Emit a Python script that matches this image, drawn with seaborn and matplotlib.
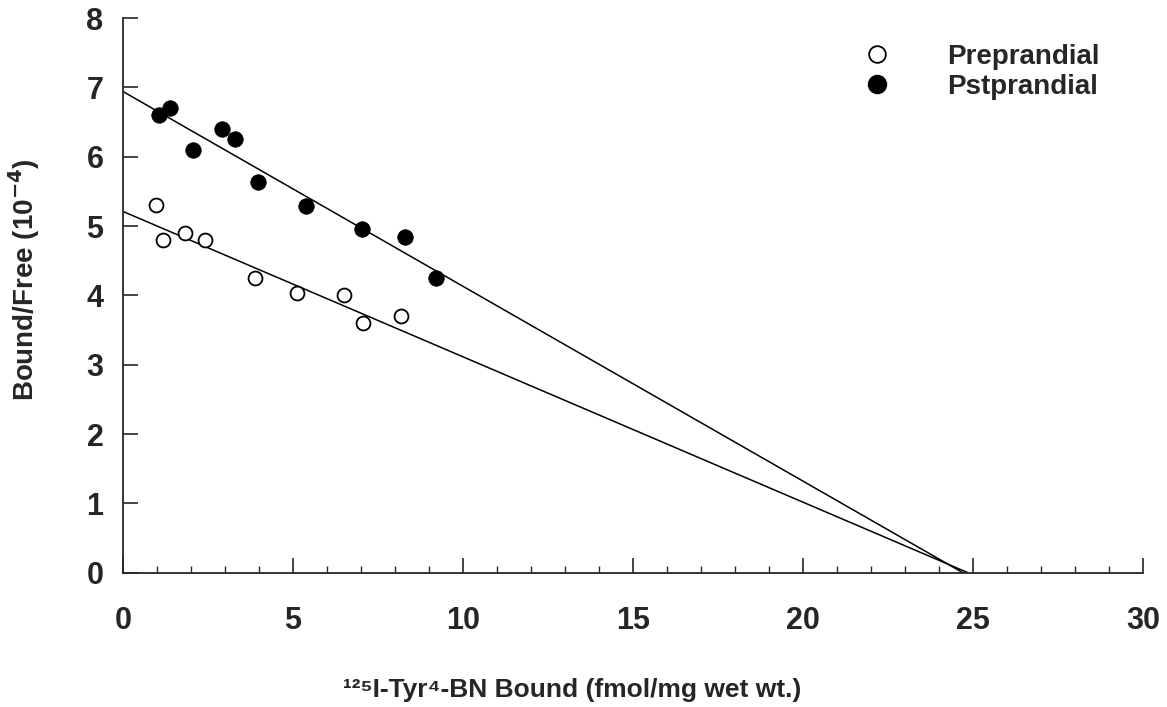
import numpy as np
import pandas as pd
import matplotlib

matplotlib.use("Agg")
import matplotlib.pyplot as plt
import seaborn as sns
from matplotlib.lines import Line2D
from matplotlib.ticker import MultipleLocator

# data
pre_x = [0.96, 1.18, 1.83, 2.41, 3.88, 5.12, 6.49, 7.07, 8.18]
pre_y = [5.30, 4.80, 4.90, 4.80, 4.25, 4.04, 4.00, 3.60, 3.70]
post_x = [1.07, 1.38, 2.05, 2.91, 3.30, 3.97, 5.38, 7.02, 8.29, 9.20]
post_y = [6.60, 6.70, 6.10, 6.40, 6.25, 5.64, 5.29, 4.95, 4.84, 4.25]

# fitted Scatchard lines: y-intercept and x-intercept
pre_line_x = [0.0, 24.85]
pre_line_y = [5.21, 0.0]
post_line_x = [0.0, 24.70]
post_line_y = [6.94, 0.0]

x_ticks = [0, 5, 10, 15, 20, 25, 30]
y_ticks = [0, 1, 2, 3, 4, 5, 6, 7, 8]

sns.set_style("ticks")
plt.rcParams["font.family"] = ["Liberation Sans", "DejaVu Sans"]
plt.rcParams["font.weight"] = "bold"
plt.rcParams["mathtext.default"] = "bf"

df_pre = pd.DataFrame({"x": pre_x, "y": pre_y})
df_post = pd.DataFrame({"x": post_x, "y": post_y})
df_lines = pd.DataFrame(
    {
        "x": pre_line_x + post_line_x,
        "y": pre_line_y + post_line_y,
        "group": ["Preprandial"] * 2 + ["Pstprandial"] * 2,
    }
)

fig = plt.figure(figsize=(11.67, 7.07), dpi=100)
ax = fig.add_axes([0.1054, 0.190, 0.874, 0.7845])

sns.lineplot(
    data=df_lines, x="x", y="y", units="group", estimator=None,
    color="black", linewidth=1.1, ax=ax, legend=False,
)
sns.scatterplot(
    data=df_pre, x="x", y="y", ax=ax, s=100, marker="o",
    facecolor="white", edgecolor="black", linewidth=1.3, zorder=3,
)
sns.scatterplot(
    data=df_post, x="x", y="y", ax=ax, s=125, marker="o",
    color="black", edgecolor="black", linewidth=0.5, zorder=3,
)

ax.set_xlim(0, 30)
ax.set_ylim(0, 8)
ax.set_xticks(x_ticks)
ax.set_yticks(y_ticks)
ax.xaxis.set_minor_locator(MultipleLocator(1))
ax.tick_params(axis="both", which="major", direction="in", length=11, width=1.2,
               labelsize=22)
ax.tick_params(axis="x", which="major", pad=24)
ax.tick_params(axis="y", which="major", pad=14)
ax.tick_params(axis="x", which="minor", direction="in", length=5, width=1.0)
for lab in ax.get_xticklabels() + ax.get_yticklabels():
    lab.set_fontweight("bold")

sns.despine(ax=ax)
for sp in ("left", "bottom"):
    ax.spines[sp].set_linewidth(1.3)
    ax.spines[sp].set_clip_on(False)

ax.set_xlabel("¹²⁵I-Tyr⁴-BN Bound (fmol/mg wet wt.)", fontsize=19,
              fontweight="bold")
ax.xaxis.set_label_coords(0.44, -0.19)
ax.set_ylabel("Bound/Free (10$^{-4}$)", fontsize=20, fontweight="bold")
ax.yaxis.set_label_coords(-0.079, 0.528)

handles = [
    Line2D([], [], marker="o", linestyle="none", markersize=12,
           markerfacecolor="white", markeredgecolor="black", markeredgewidth=1.3),
    Line2D([], [], marker="o", linestyle="none", markersize=13,
           markerfacecolor="black", markeredgecolor="black"),
]
ax.legend(
    handles, ["Preprandial", "Pstprandial"], loc="upper left",
    bbox_to_anchor=(0.740, 0.938), bbox_transform=fig.transFigure,
    frameon=False, handlelength=1.0, handletextpad=2.0, labelspacing=0.15,
    borderpad=0, borderaxespad=0, prop={"size": 20, "weight": "bold"},
)

fig.savefig("out.png", dpi=100)
